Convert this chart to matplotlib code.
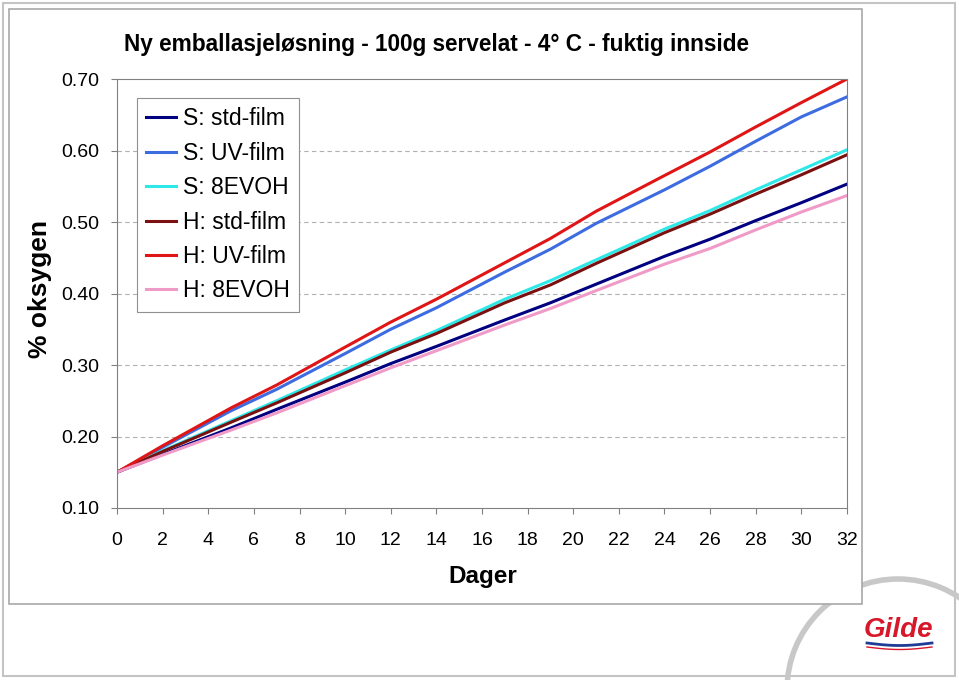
import matplotlib
matplotlib.use("Agg")
import matplotlib.pyplot as plt
from matplotlib.patches import Rectangle, Arc
import numpy as np

plt.rcParams["font.family"] = ["Liberation Sans", "DejaVu Sans"]

# måledager og % oksygen per emballasje
dager = [0, 2, 5, 7, 10, 12, 14, 17, 19, 21, 24, 26, 28, 30, 32]
s_std = [0.150, 0.175, 0.212, 0.238, 0.276, 0.302, 0.326, 0.363, 0.387, 0.413, 0.452, 0.476, 0.502, 0.527, 0.553]
s_uv = [0.150, 0.185, 0.236, 0.266, 0.316, 0.350, 0.380, 0.430, 0.462, 0.498, 0.545, 0.578, 0.613, 0.647, 0.675]
s_evoh = [0.150, 0.180, 0.222, 0.250, 0.293, 0.321, 0.348, 0.392, 0.418, 0.447, 0.490, 0.516, 0.545, 0.573, 0.601]
h_std = [0.150, 0.179, 0.220, 0.247, 0.289, 0.318, 0.344, 0.387, 0.412, 0.442, 0.485, 0.511, 0.539, 0.566, 0.594]
h_uv = [0.150, 0.187, 0.240, 0.272, 0.325, 0.360, 0.392, 0.443, 0.477, 0.515, 0.565, 0.598, 0.633, 0.667, 0.700]
h_evoh = [0.150, 0.174, 0.209, 0.233, 0.271, 0.296, 0.320, 0.356, 0.379, 0.404, 0.441, 0.463, 0.489, 0.514, 0.537]

serier = [
    ("S: std-film", s_std, "#000080"),
    ("S: UV-film", s_uv, "#3D6BE0"),
    ("S: 8EVOH", s_evoh, "#2EE8E8"),
    ("H: std-film", h_std, "#7A1010"),
    ("H: UV-film", h_uv, "#E01515"),
    ("H: 8EVOH", h_evoh, "#F09AC8"),
]

W, H = 959, 680
fig = plt.figure(figsize=(W / 100, H / 100), dpi=100)

# bakgrunn: rammer og logo i pikselkoordinater
bg = fig.add_axes([0, 0, 1, 1], zorder=0)
bg.set_xlim(0, W)
bg.set_ylim(H, 0)
bg.axis("off")
bg.add_patch(Rectangle((3, 3), 952, 673, fill=False, ec="#C4C4C4", lw=1.5))
bg.add_patch(Arc((898, 690), 222, 222, theta1=0, theta2=360, ec="#C8C8C8", lw=4))
bg.add_patch(Arc((898, 690), 190, 190, theta1=115, theta2=140, ec="#D8D8D8", lw=1))
bg.add_patch(Rectangle((9, 9), 853, 595, fc="white", ec="#A8A8A8", lw=1.2, zorder=3))
bg.text(898, 630, "Gilde", color="#D7182A", fontsize=20, fontweight="bold",
        fontstyle="italic", ha="center", va="center", zorder=4)
wx = np.linspace(867, 932, 40)
bg.plot(wx, 643 + 2.5 * np.sin((wx - 867) / 65 * np.pi), color="#1F3C96", lw=2, zorder=4)
bg.plot(wx, 647 + 2.5 * np.sin((wx - 867) / 65 * np.pi), color="#D7182A", lw=1, zorder=4)

ax = fig.add_axes([117 / W, 1 - 508 / H, 730 / W, 429 / H], zorder=1)
for navn, verdier, farge in serier:
    ax.plot(dager, verdier, color=farge, lw=2.2, label=navn)

ax.set_xlim(0, 32)
ax.set_ylim(0.10, 0.70)
ax.set_xticks(range(0, 33, 2))
ax.set_yticks(np.arange(0.10, 0.71, 0.10))
ax.set_yticklabels([f"{v:.2f}" for v in np.arange(0.10, 0.71, 0.10)])
ax.tick_params(labelsize=14, color="#808080", length=4, pad=9)
ax.tick_params(axis="x", pad=13)
for s in ax.spines.values():
    s.set_color("#808080")
for v in [0.2, 0.3, 0.4, 0.5, 0.6]:
    ax.axhline(v, color="#B0B0B0", lw=0.8, ls=(0, (4, 3)), zorder=0)

fig.text(483 / W, 1 - 577 / H, "Dager", fontsize=17.5, fontweight="bold",
         ha="center", va="center")
fig.text(40 / W, 1 - 289 / H, "% oksygen", fontsize=19, fontweight="bold",
         ha="center", va="center", rotation=90)
fig.text(436 / W, 1 - 44 / H, "Ny emballasjeløsning - 100g servelat - 4° C - fuktig innside",
         fontsize=16.3, fontweight="bold", ha="center", va="center")

leg = ax.legend(loc="upper left", bbox_to_anchor=(20 / 730, 1 - 19 / 429), fontsize=16.5,
                fancybox=False, edgecolor="#909090", framealpha=1, handlelength=1.3,
                handletextpad=0.3, borderpad=0.4, labelspacing=0.5, borderaxespad=0)
leg.get_frame().set_linewidth(0.8)

fig.savefig("out.png", dpi=100)
